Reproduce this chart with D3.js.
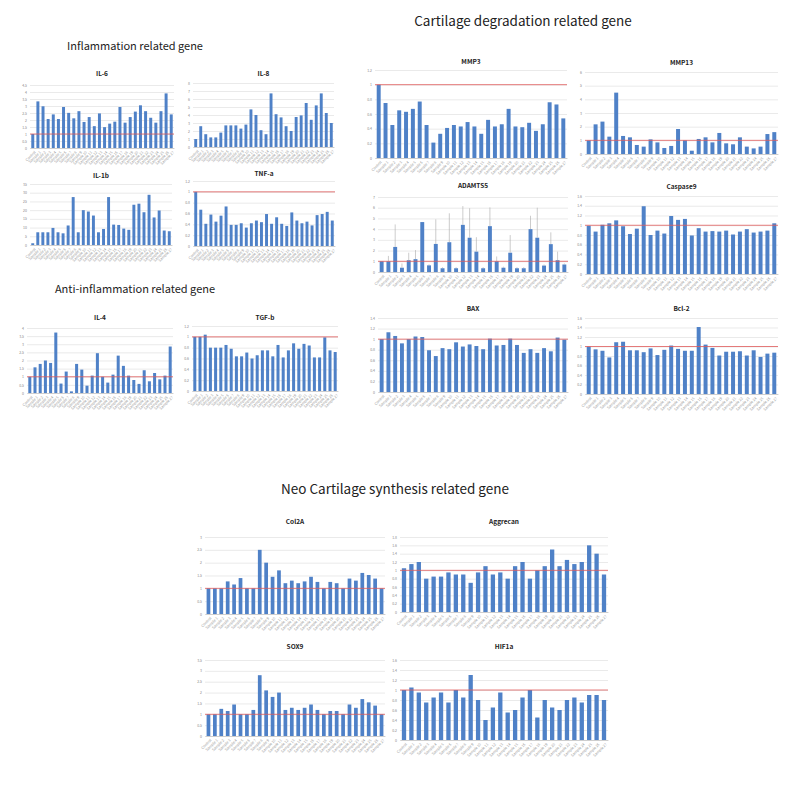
<!DOCTYPE html>
<html><head><meta charset="utf-8">
<script src="https://cdn.jsdelivr.net/npm/d3@7"></script>
<style>body{margin:0;background:#fff}svg{display:block}</style>
</head><body>
<svg id="c" width="794" height="787"></svg>
<script>
// ---- data ----
const categories = ["Control"].concat(d3.range(1, 28).map(i => "Sample " + i));

const il6Values = [1.0,3.33,2.98,2.07,2.4,2.07,2.93,2.51,2.12,2.63,1.86,2.21,1.56,2.47,1.49,1.74,1.88,2.93,1.81,2.21,2.6,3.05,2.63,2.16,1.81,2.63,3.9,2.4];
const il8Values = [1.0,2.6,1.6,1.2,1.2,1.8,2.7,2.7,2.7,2.3,2.8,4.7,4.0,2.1,1.6,6.7,4.1,3.7,2.6,2.0,3.75,3.95,5.5,3.4,5.2,6.7,4.25,3.0];
const il1bValues = [1,7.3,7.3,7.3,9.8,7.3,6.7,11.2,27.5,7.3,20,19.2,16.9,7.3,9.2,27.5,11.7,11.5,9.4,8.7,23.1,23.7,18.8,28.8,15.8,19.8,8.3,7.9];
const tnfaValues = [1.0,0.67,0.41,0.58,0.45,0.56,0.73,0.39,0.39,0.42,0.34,0.42,0.47,0.44,0.59,0.41,0.53,0.41,0.37,0.62,0.47,0.42,0.45,0.38,0.57,0.59,0.63,0.47];
const il4Values = [1.0,1.58,1.79,2.0,1.85,3.72,0.58,1.32,0.1,1.79,1.44,0.45,1.07,2.45,1.0,0.64,1.13,2.3,1.67,1.07,0.8,0.56,1.4,0.72,1.23,0.84,1.07,2.86];
const tgfbValues = [1.0,1.0,1.04,0.8,0.8,0.8,0.85,0.78,0.64,0.64,0.71,0.6,0.66,0.75,0.75,0.64,0.85,0.62,0.75,0.88,0.78,0.87,0.84,0.62,0.62,0.99,0.75,0.72];
const mmp3Values = [1.0,0.75,0.45,0.65,0.63,0.67,0.77,0.45,0.21,0.33,0.41,0.45,0.43,0.49,0.43,0.33,0.52,0.43,0.46,0.67,0.43,0.42,0.48,0.37,0.46,0.76,0.73,0.54];
const mmp13Values = [1.0,2.17,2.37,1.27,4.49,1.32,1.22,0.66,0.54,1.07,0.85,0.44,0.59,1.83,1.0,0.24,1.1,1.22,0.85,1.54,0.78,0.71,1.22,0.54,0.41,0.54,1.46,1.6];
const adamts5Values = [1.0,1.0,2.34,0.4,1.1,1.2,4.66,0.62,2.62,0.35,2.78,0.35,4.4,3.2,1.9,0.35,4.28,1.0,0.4,1.8,0.35,0.35,4.0,3.2,0.6,2.6,1.1,0.7];
const adamts5Errors = [0,0.5,2.1,0.4,0.7,0.85,0,0.1,2.3,0.1,2.7,0.1,1.75,2.75,1.35,0.1,1.75,0.45,0.1,1.65,0.1,0.1,1.25,2.8,0.1,1.1,0.8,0.1];
const caspase9Values = [0.99,0.87,1.01,1.04,1.1,0.98,0.82,0.93,1.39,0.8,0.89,0.83,1.19,1.11,1.13,0.79,0.94,0.87,0.88,0.87,0.89,0.81,0.87,0.92,0.85,0.87,0.89,1.04];
const baxValues = [1.0,1.13,1.06,0.92,1.0,1.05,1.04,0.79,0.68,0.83,0.81,0.94,0.86,0.9,0.87,0.81,1.01,0.88,0.89,1.01,0.89,0.74,0.81,0.74,0.83,0.77,1.03,0.99];
const bcl2Values = [1.0,0.94,0.91,0.77,1.09,1.1,0.92,0.92,0.88,0.96,0.82,0.93,1.02,0.95,0.91,0.91,1.41,1.04,0.97,0.81,0.89,0.89,0.9,0.81,0.92,0.78,0.85,0.87];
const col2aValues = [1.0,1.0,1.0,1.27,1.15,1.4,1.0,1.0,2.5,2.0,1.45,1.7,1.2,1.3,1.2,1.27,1.45,1.25,1.0,1.25,1.2,1.0,1.38,1.3,1.6,1.52,1.38,1.0];
const aggrecanValues = [1.05,1.15,1.2,0.8,0.85,0.85,0.95,0.9,0.9,0.7,0.95,1.1,0.9,0.95,0.8,1.1,1.2,0.8,1.0,1.1,1.5,1.1,1.25,1.15,1.2,1.6,1.4,0.9];
const sox9Values = [1.0,1.0,1.25,1.15,1.45,1.0,1.0,1.2,2.8,2.1,1.8,2.0,1.2,1.3,1.2,1.3,1.45,1.2,1.0,1.15,1.15,1.0,1.45,1.3,1.7,1.55,1.4,1.0];
const hif1aValues = [1.0,1.05,0.95,0.75,0.85,0.95,0.75,1.0,0.85,1.3,0.8,0.4,0.65,0.95,0.55,0.6,0.85,1.0,0.45,0.8,0.65,0.6,0.8,0.85,0.75,0.9,0.9,0.8];

const sectionTitles = ["Inflammation related gene","Anti-inflammation related gene","Cartilage degradation related gene","Neo Cartilage synthesis related gene"];

// ---- layout ----
const panels = [
  {name:"IL-6", values:il6Values, max:4.5, step:0.5, ref:true, box:[30,174,85,148], ty:76},
  {name:"IL-8", values:il8Values, max:8, step:1, ref:false, box:[193,334,83,147], ty:76},
  {name:"IL-1b", values:il1bValues, max:35, step:5, ref:false, box:[30,172,184,245], ty:178},
  {name:"TNF-a", values:tnfaValues, max:1.2, step:0.2, ref:true, box:[193,335,181,246], ty:176},
  {name:"IL-4", values:il4Values, max:4, step:0.5, ref:true, box:[27,173,328,393], ty:320},
  {name:"TGF-b", values:tgfbValues, max:1.2, step:0.2, ref:true, box:[192,338,326,391], ty:320},
  {name:"MMP3", values:mmp3Values, max:1.2, step:0.2, ref:true, box:[375,567,70,158], ty:64},
  {name:"MMP13", values:mmp13Values, max:6, step:1, ref:true, box:[585,778,72,154], ty:65},
  {name:"ADAMTS5", values:adamts5Values, err:adamts5Errors, max:7, step:1, ref:true, box:[378,568,197,272], ty:188},
  {name:"Caspase9", values:caspase9Values, max:1.6, step:0.2, ref:true, box:[585,778,196,274], ty:189},
  {name:"BAX", values:baxValues, max:1.4, step:0.2, ref:true, box:[378,568,318,392], ty:311},
  {name:"Bcl-2", values:bcl2Values, max:1.6, step:0.2, ref:true, box:[585,778,318,394], ty:311},
  {name:"Col2A", values:col2aValues, max:3, step:0.5, ref:true, box:[205,385,537,614], ty:524},
  {name:"Aggrecan", values:aggrecanValues, max:1.8, step:0.2, ref:true, box:[400,608,537,612], ty:524},
  {name:"SOX9", values:sox9Values, max:3.5, step:0.5, ref:true, box:[205,385,660,736], ty:649},
  {name:"HIF1a", values:hif1aValues, max:1.6, step:0.2, ref:true, box:[400,608,660,740], ty:649}
];
const sectionPos = [[135,50,11],[135,293,11],[523,26,13.5],[395,494,13.5]];

const svg = d3.select("#c");
const FONT = "'Noto Sans CJK KR','Noto Sans',sans-serif";

sectionTitles.forEach((t,i) => {
  svg.append("text").attr("x",sectionPos[i][0]).attr("y",sectionPos[i][1])
    .attr("text-anchor","middle").attr("font-family",FONT).attr("font-size",sectionPos[i][2])
    .attr("fill","#222").text(t);
});

panels.forEach(p => {
  const [x0,x1,yt,yb] = p.box;
  const g = svg.append("g");
  const x = d3.scaleBand().domain(categories).range([x0,x1]).paddingInner(0.42).paddingOuter(0.25);
  const y = d3.scaleLinear().domain([0,p.max]).range([yb,yt]);
  const ticks = d3.range(0, p.max + p.step/2, p.step).map(v => +v.toFixed(2));
  const ax = d3.axisLeft(y).tickValues(ticks).tickSize(-(x1-x0)).tickFormat(d3.format("~g"));
  const ag = g.append("g").attr("transform",`translate(${x0},0)`).call(ax);
  ag.select(".domain").remove();
  ag.selectAll(".tick line").attr("stroke","#dcdcdc").attr("stroke-width",0.6);
  ag.selectAll(".tick text").attr("font-size",3.5).attr("fill","#888").attr("x",-3).attr("font-family",FONT);
  const xa = d3.axisBottom(x).tickSize(0);
  const xg = g.append("g").attr("transform",`translate(0,${yb})`).call(xa);
  xg.select(".domain").attr("stroke","#bbb").attr("stroke-width",0.6);
  xg.selectAll(".tick text").attr("font-size",3.6).attr("fill","#999").attr("font-family",FONT)
    .attr("text-anchor","end").attr("transform","rotate(-45)").attr("dx",-1).attr("dy",2.5);
  g.selectAll("rect.bar").data(p.values).join("rect").attr("class","bar")
    .attr("x",(d,i)=>x(categories[i])).attr("width",x.bandwidth())
    .attr("y",d=>y(d)).attr("height",d=>yb-y(d)).attr("fill","#4f81c7");
  if (p.err) {
    g.selectAll("line.err").data(p.values).join("line").attr("class","err")
      .attr("x1",(d,i)=>x(categories[i])+x.bandwidth()/2).attr("x2",(d,i)=>x(categories[i])+x.bandwidth()/2)
      .attr("y1",d=>y(d)).attr("y2",(d,i)=>y(d+p.err[i]))
      .attr("stroke","#aaa").attr("stroke-width",0.6);
  }
  if (p.ref) {
    g.append("line").attr("x1",x0).attr("x2",x1).attr("y1",y(1)).attr("y2",y(1))
      .attr("stroke","#e05a5a").attr("stroke-width",0.8);
  }
  g.append("text").attr("x",(x0+x1)/2).attr("y",p.ty).attr("text-anchor","middle")
    .attr("font-family",FONT).attr("font-size",6.5).attr("font-weight","bold").attr("fill","#222").text(p.name);
});
</script>
</body></html>
